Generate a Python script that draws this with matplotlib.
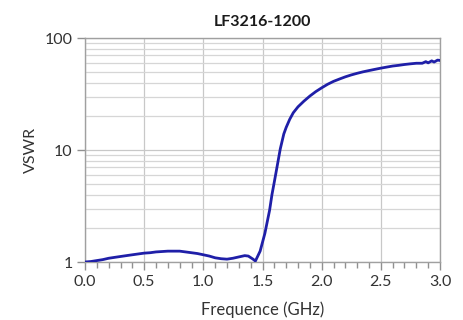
import matplotlib
matplotlib.use("Agg")
import matplotlib.pyplot as plt
from matplotlib.ticker import MultipleLocator, FixedLocator, NullFormatter, FixedFormatter

freq_ghz = [0.00, 0.05, 0.10, 0.15, 0.20, 0.25, 0.30, 0.35, 0.40, 0.45,
            0.50, 0.55, 0.60, 0.65, 0.70, 0.75, 0.80, 0.85, 0.90, 0.95,
            1.00, 1.05, 1.10, 1.15, 1.20, 1.25, 1.30, 1.35, 1.38, 1.42,
            1.44, 1.48, 1.50, 1.52, 1.56, 1.58, 1.60, 1.62, 1.65, 1.68,
            1.70, 1.73, 1.76, 1.80, 1.85, 1.90, 1.95, 2.00, 2.05, 2.10,
            2.15, 2.20, 2.25, 2.30, 2.35, 2.40, 2.45, 2.50, 2.55, 2.60,
            2.65, 2.70, 2.75, 2.80, 2.85, 2.88, 2.90, 2.93, 2.95, 2.98, 3.00]
vswr = [1.00, 1.01, 1.03, 1.05, 1.08, 1.10, 1.12, 1.14, 1.16, 1.18,
        1.20, 1.21, 1.23, 1.24, 1.25, 1.25, 1.25, 1.23, 1.21, 1.19,
        1.16, 1.13, 1.09, 1.07, 1.06, 1.08, 1.11, 1.14, 1.13, 1.06,
        1.02, 1.25, 1.50, 1.80, 2.9, 4.0, 5.2, 6.8, 10.2, 13.9,
        15.9, 18.8, 21.5, 24.3, 27.3, 30.3, 33.2, 35.9, 38.6, 41.0,
        43.0, 45.0, 46.8, 48.4, 49.9, 51.2, 52.5, 53.8, 55.0, 56.2,
        57.0, 58.0, 58.8, 59.5, 59.5, 61.5, 60.0, 62.5, 61.0, 63.5, 63.0]

x_ticks = [0.0, 0.5, 1.0, 1.5, 2.0, 2.5, 3.0]
x_tick_labels = ["0.0", "0.5", "1.0", "1.5", "2.0", "2.5", "3.0"]
y_ticks = [1, 10, 100]
y_tick_labels = ["1", "10", "100"]

plt.rcParams['font.family'] = ['Lato', 'DejaVu Sans']

fig = plt.figure(figsize=(4.63, 3.20), dpi=100)
ax = fig.add_axes([85/463, 1-262/320, (440-85)/463, (262-38)/320])

ax.plot(freq_ghz, vswr, color='#1f1fa8', lw=2.0, zorder=3)

ax.set_yscale('log')
ax.set_xlim(0, 3.0)
ax.set_ylim(1, 100)

ax.xaxis.set_major_locator(FixedLocator(x_ticks))
ax.xaxis.set_major_formatter(FixedFormatter(x_tick_labels))
ax.xaxis.set_minor_locator(MultipleLocator(0.1))
ax.yaxis.set_major_locator(FixedLocator(y_ticks))
ax.yaxis.set_major_formatter(FixedFormatter(y_tick_labels))
minor_y = [m * d for d in (1, 10) for m in range(2, 10)]
ax.yaxis.set_minor_locator(FixedLocator(minor_y))
ax.yaxis.set_minor_formatter(NullFormatter())

ax.grid(True, which='major', axis='both', color='#c8c8c8', lw=0.9)
ax.grid(True, which='minor', axis='y', color='#d6d6d6', lw=0.9)
ax.set_axisbelow(True)

for s in ax.spines.values():
    s.set_color('#a0a0a0')
    s.set_linewidth(1.0)

ax.tick_params(axis='both', which='major', direction='out', length=6,
               width=1, color='#909090', labelsize=11.5, labelcolor='#333333', pad=3)
ax.tick_params(axis='x', which='minor', direction='out', length=4,
               width=1, color='#909090')
ax.tick_params(axis='y', which='minor', length=0)

ax.set_xlabel('Frequence (GHz)', fontsize=12, color='#333333', labelpad=9)
ax.set_ylabel('VSWR', fontsize=11.5, color='#333333', labelpad=5)
ax.set_title('LF3216-1200', fontsize=11.5, fontweight='bold', color='#1a1a1a', pad=9)

fig.savefig('out.png', dpi=100)
